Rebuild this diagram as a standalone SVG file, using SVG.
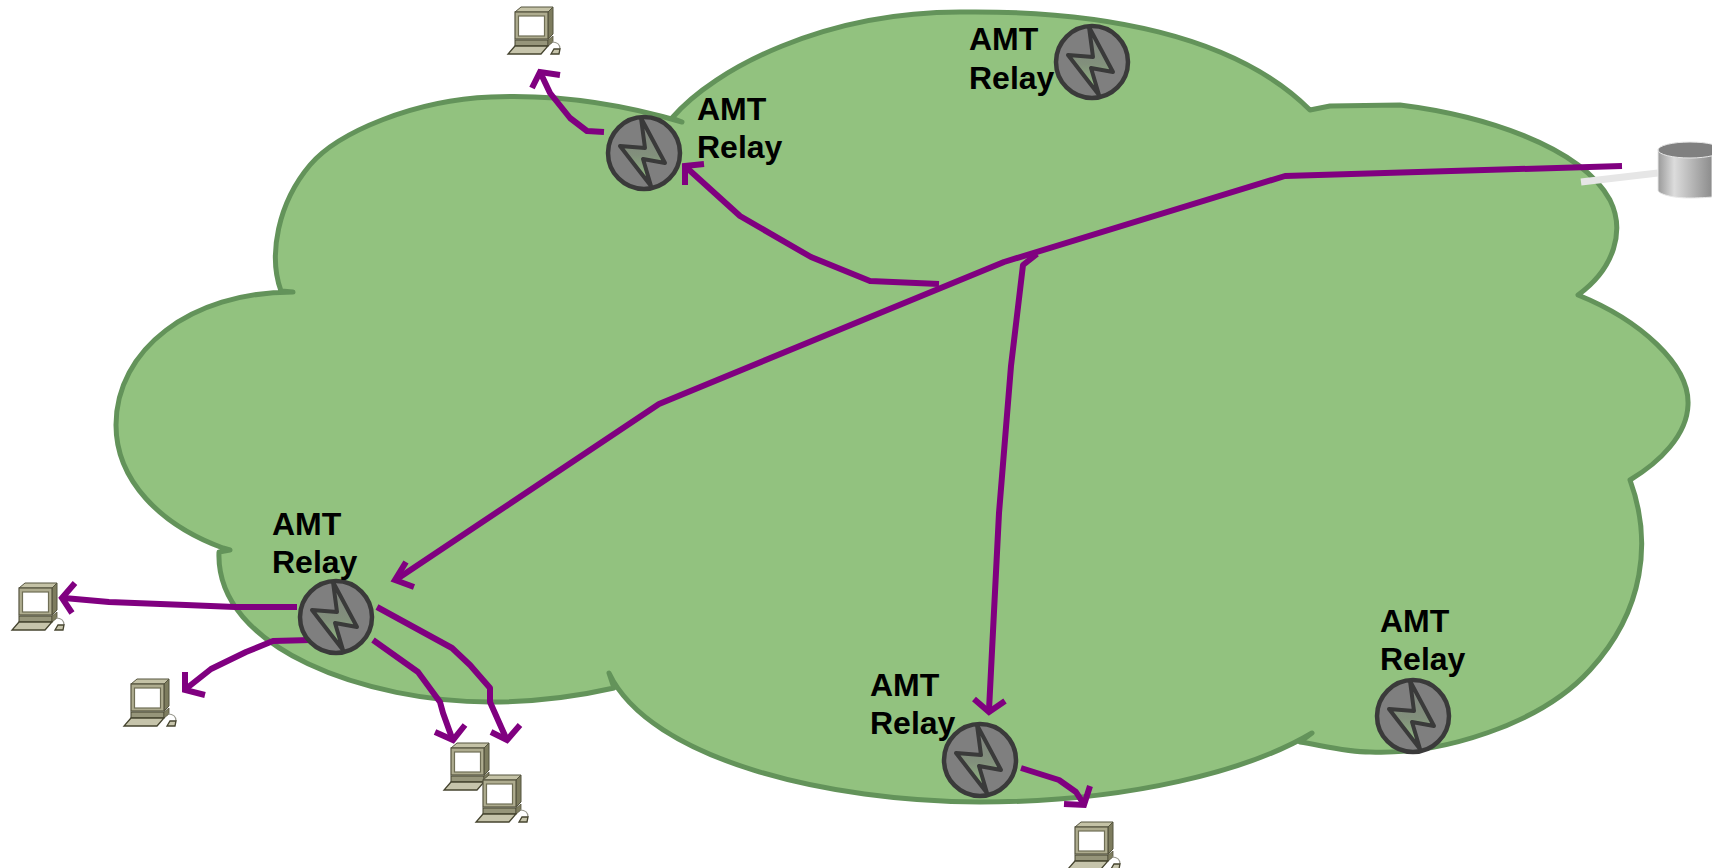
<svg xmlns="http://www.w3.org/2000/svg" width="1712" height="868" viewBox="0 0 1712 868">
<style>
.lbl{font:bold 32px "Liberation Sans",Arial,sans-serif;fill:#000}
.c{fill:none;stroke:#800080;stroke-width:6;stroke-linejoin:round}
.h{fill:none;stroke:#800080;stroke-width:6;stroke-linejoin:miter;stroke-miterlimit:10}
.cloud{fill:#92c27f;stroke:#63935a;stroke-width:5;stroke-linejoin:round}
</style>
<defs>
<linearGradient id="cyl" x1="0" x2="1" y1="0" y2="0"><stop offset="0" stop-color="#9a9a9a"/><stop offset=".3" stop-color="#dcdcdc"/><stop offset="1" stop-color="#8c8c8c"/></linearGradient>
<linearGradient id="bolt" x1="0" x2="0" y1="0" y2="1"><stop offset="0" stop-color="#7f7f7f"/><stop offset=".55" stop-color="#82907c"/><stop offset="1" stop-color="#92c27f"/></linearGradient>
<g id="relay">
<circle r="36" fill="#7f7f7f" stroke="#3a3a3a" stroke-width="4.500"/>
<path d="M-3-35L1-5-24-7 7 33-1 6 21 10Z" fill="url(#bolt)" stroke="#3a3a3a" stroke-width="4" stroke-linejoin="round"/>
</g>
<g id="pc">
<path d="M7 5L13 0H45L40 5Z" fill="#c4c2a6" stroke="#55543f" stroke-width="1"/>
<path d="M40 5L45 0V27L40 32Z" fill="#7d7c5e" stroke="#55543f" stroke-width="1"/>
<rect x="7" y="5" width="33" height="27" fill="#aeac8f" stroke="#55543f" stroke-width="1.2"/>
<rect x="10.500" y="9" width="26" height="20" fill="#fff" stroke="#6f6e55" stroke-width="1.2"/>
<rect x="7" y="33" width="33" height="6" fill="#96957a" stroke="#45442f" stroke-width="1"/>
<path d="M40 33L45 29V35L40 39Z" fill="#7d7c5e" stroke="#55543f" stroke-width=".8"/>
<path d="M7 39H40L33 47H0Z" fill="#c6c4ab" stroke="#45442f" stroke-width="1.3"/>
<path d="M44 35Q52 35 52 42" fill="none" stroke="#9a9a90" stroke-width="1.2"/>
<path d="M46 42H52L51 47H43Z" fill="#c6c4ab" stroke="#45442f" stroke-width="1.3"/>
</g>
</defs>

<g id="cloud">
<path class="cloud" d="M281 291C268 255 278 203 310 165C338 132 415 100 491 97C560 94 625 105 682 122L672 118C715 68 825 12 960 12C1100 10 1235 35 1310 110L1330 106L1400 105C1480 115 1580 145 1610 200C1625 230 1615 268 1578 295C1640 320 1690 365 1688 405C1687 435 1660 462 1630 480C1652 540 1645 610 1590 670C1540 725 1440 755 1370 752C1345 752 1320 745 1300 742L1312 733C1250 770 1130 802 980 802C830 802 650 760 609 673L614 688C570 698 530 702 490 702C370 702 215 650 219 552L230 550L223 548C160 525 116 480 116 425C116 350 190 292 293 292Z"/>
</g>

<g id="source">
<path d="M1581 182L1658 173" stroke="#e6e6e6" stroke-width="7" fill="none"/>
<path d="M1658 149V190C1658 194 1672 198 1690 198C1702 198 1712 197 1712 197V145Z" fill="url(#cyl)" stroke="#e8e8e8" stroke-width="1"/>
<ellipse cx="1690" cy="150" rx="32" ry="8" fill="#808080" stroke="#e8e8e8" stroke-width="1"/>
</g>

<g id="connectors">
<path class="c" d="M1622 166L1285 176 1004 262 659 404 397 579"/><path class="h" d="M414 587L395 580 406 562"/>
<path class="c" d="M939 284L870 281 811 257 740 216 687 168"/><path class="h" d="M685 185L685 166 704 164"/>
<path class="c" d="M1037 254L1023 265 1011 366 999 513 989 710"/><path class="h" d="M974 699L989 712 1005 701"/>
<path class="c" d="M604 132L587 131 570 118 550 93 541 74"/><path class="h" d="M532 88L540 72 560 75"/>
<path class="c" d="M297 607L235 607 186 605 109 602 64 598"/><path class="h" d="M75 583L62 598 72 613"/>
<path class="c" d="M311 640L273 641 246 652 211 669 187 688"/><path class="h" d="M185 672L185 690 205 695"/>
<path class="c" d="M373 640L418 672 440 702 443 713 452 738"/><path class="h" d="M435 732L453 740 465 725"/>
<path class="c" d="M377 607L452 648 470 665 490 688 490 702 506 738"/><path class="h" d="M491 732L507 740 520 725"/>
<path class="c" d="M1021 768L1059 780 1076 792 1083 803"/><path class="h" d="M1064 804L1084 805 1090 786"/>
</g>

<g id="relay1"><use href="#relay" x="644" y="153"/><text class="lbl" x="697" y="120">AMT</text><text class="lbl" x="697" y="158">Relay</text></g>
<g id="relay2"><use href="#relay" x="1092" y="62"/><text class="lbl" x="969" y="50">AMT</text><text class="lbl" x="969" y="89">Relay</text></g>
<g id="relay3"><use href="#relay" x="336" y="617"/><text class="lbl" x="272" y="535">AMT</text><text class="lbl" x="272" y="573">Relay</text></g>
<g id="relay4"><use href="#relay" x="980" y="760"/><text class="lbl" x="870" y="696">AMT</text><text class="lbl" x="870" y="734">Relay</text></g>
<g id="relay5"><use href="#relay" x="1413" y="716"/><text class="lbl" x="1380" y="632">AMT</text><text class="lbl" x="1380" y="670">Relay</text></g>

<g id="pc1"><use href="#pc" x="508" y="7"/></g>
<g id="pc2"><use href="#pc" x="12" y="583"/></g>
<g id="pc3"><use href="#pc" x="124" y="679"/></g>
<g id="pc4"><use href="#pc" x="444" y="743"/></g>
<g id="pc5"><use href="#pc" x="476" y="775"/></g>
<g id="pc6"><use href="#pc" x="1068" y="822"/></g>
</svg>
